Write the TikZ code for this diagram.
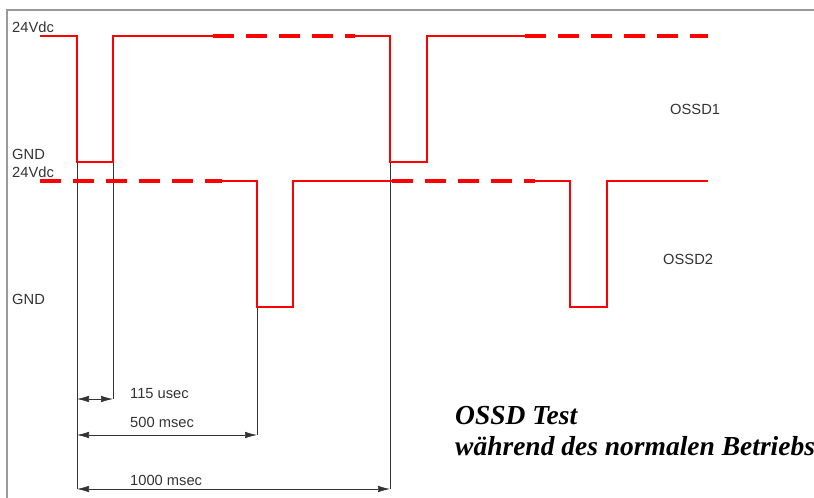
\documentclass[tikz,border=0pt]{standalone}
\usepackage{fontspec}
\setmainfont{Liberation Serif}
\setsansfont{Liberation Sans}
\usetikzlibrary{arrows.meta}
\definecolor{sigred}{RGB}{255,0,0}
\begin{document}
\begin{tikzpicture}[x=1pt,y=-1pt,
  sig/.style={draw=sigred, line width=2.4pt},
  sigdash/.style={draw=sigred, line width=3.2pt, dash pattern=on 21pt off 12pt},
  lvl/.style={font=\sffamily\fontsize{14.7}{17}\selectfont, text=black!80, anchor=base west, inner sep=0pt},
  ext/.style={draw=black!80, line width=0.7pt},
  dimline/.style={draw=black!80, line width=0.7pt, {Latex[length=12pt,width=6.5pt]}-{Latex[length=12pt,width=6.5pt]}},
  titletext/.style={font=\rmfamily\bfseries\itshape\fontsize{27.5}{32}\selectfont, anchor=base west, inner sep=0pt}]
\useasboundingbox (0,0) rectangle (814,498);
\draw[black!40, line width=1.5pt] (7,498) -- (7,10) -- (814,10);

% extension lines
\coordinate (e1t) at (77,162);  \coordinate (e1b) at (77,489);
\coordinate (e2t) at (113,162); \coordinate (e2b) at (113,399);
\coordinate (e3t) at (257,307); \coordinate (e3b) at (257,435);
\coordinate (e4t) at (390,162); \coordinate (e4b) at (390,489);
\draw[ext] (e1t) -- (e1b);
\draw[ext] (e2t) -- (e2b);
\draw[ext] (e3t) -- (e3b);
\draw[ext] (e4t) -- (e4b);

% dimension arrows
\coordinate (d1a) at (77,399);  \coordinate (d1b) at (113,399);
\coordinate (d2a) at (77,435);  \coordinate (d2b) at (257,435);
\coordinate (d3a) at (77,489);  \coordinate (d3b) at (390,489);
\draw[dimline] (d1a) -- (d1b);
\draw[dimline] (d2a) -- (d2b);
\draw[dimline] (d3a) -- (d3b);

% OSSD1
\draw[sig] (40,36) -- (77,36) -- (77,162) -- (113,162) -- (113,36) -- (213,36);
\draw[sigdash] (213,36) -- (355,36);
\draw[sig] (355,36) -- (390,36) -- (390,162) -- (427,162) -- (427,36) -- (525,36);
\draw[sigdash] (525,36) -- (708,36);

% OSSD2
\draw[sigdash] (40,181) -- (222,181);
\draw[sig] (222,181) -- (257,181) -- (257,307) -- (293,307) -- (293,181) -- (392,181);
\draw[sigdash] (392,181) -- (535,181);
\draw[sig] (535,181) -- (570,181) -- (570,307) -- (607,307) -- (607,181) -- (708,181);

% labels
\node[lvl] (v1) at (12,32) {24Vdc};
\node[lvl] (g1) at (12,159) {GND};
\node[lvl] (v2) at (12,177) {24Vdc};
\node[lvl] (g2) at (12,304) {GND};
\node[lvl] (o1) at (670,114) {OSSD1};
\node[lvl] (o2) at (663,264) {OSSD2};
\node[lvl] (t1) at (130,398) {115 usec};
\node[lvl] (t2) at (130,427) {500 msec};
\node[lvl] (t3) at (130,485) {1000 msec};
\node[titletext] (h1) at (455,424) {OSSD Test};
\node[titletext] (h2) at (455,455) {während des normalen Betriebs};
\end{tikzpicture}
\end{document}
